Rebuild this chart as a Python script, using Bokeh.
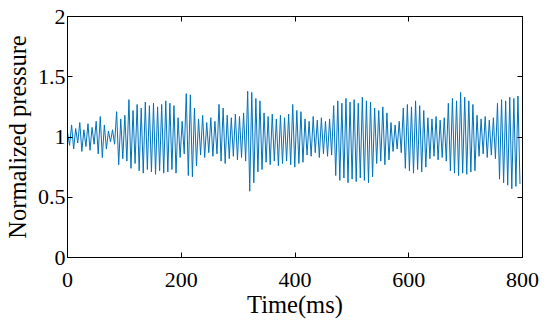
from bokeh.plotting import figure
from bokeh.models import LinearAxis, FixedTicker, NumeralTickFormatter, Range1d, CustomJSTickFormatter
from bokeh.embed import file_html
from bokeh.resources import INLINE

# ---- data ----
half_period_ms = 3.6  # spacing between successive peak / trough samples

# per-cycle maxima of the normalized pressure
peaks = [
    1.04, 1.10, 1.07, 1.12, 1.06, 1.11, 1.08,
    1.13, 1.17, 1.10, 1.05, 1.06, 1.21, 1.15, 1.18,
    1.31, 1.22, 1.27, 1.24, 1.29, 1.26, 1.28, 1.25, 1.27, 1.30, 1.28, 1.26,
    1.16, 1.13,
    1.36, 1.35,
    1.24,
    1.15, 1.18, 1.12, 1.16, 1.13,
    1.27, 1.24,
    1.18, 1.16, 1.19, 1.17, 1.20,
    1.38, 1.37,
    1.32, 1.30,
    1.20, 1.17, 1.19, 1.15, 1.18, 1.16, 1.19, 1.27,
    1.22, 1.21,
    1.15, 1.13, 1.17, 1.14, 1.16, 1.13, 1.15,
    1.26, 1.30, 1.28, 1.32, 1.29, 1.31, 1.28, 1.33, 1.30, 1.29,
    1.24, 1.22, 1.25, 1.20,
    1.12, 1.10, 1.13,
    1.24, 1.27, 1.25, 1.30, 1.26, 1.22,
    1.16, 1.15, 1.17, 1.14, 1.16,
    1.28, 1.32, 1.30, 1.37, 1.33, 1.30, 1.27,
    1.18, 1.15, 1.17, 1.14, 1.16,
    1.28, 1.31, 1.30, 1.33, 1.32, 1.34,
]
# per-cycle minima of the normalized pressure
troughs = [
    0.93, 0.90, 0.95, 0.88, 0.92, 0.89, 0.94,
    0.86, 0.83, 0.90, 0.96, 0.94, 0.77, 0.82, 0.80,
    0.74, 0.78, 0.72, 0.70, 0.73, 0.71, 0.69, 0.72, 0.70, 0.71, 0.73, 0.70,
    0.83, 0.86,
    0.68, 0.67,
    0.76,
    0.85, 0.83, 0.87, 0.84, 0.86,
    0.80, 0.78,
    0.82, 0.84, 0.81, 0.83, 0.80,
    0.55, 0.62,
    0.71, 0.73,
    0.79, 0.77, 0.80, 0.76, 0.78, 0.80, 0.77, 0.75,
    0.78, 0.79,
    0.85, 0.84, 0.87, 0.83, 0.86, 0.84, 0.85,
    0.68, 0.64, 0.66, 0.62, 0.65, 0.63, 0.66, 0.64, 0.62, 0.67,
    0.78, 0.80, 0.77, 0.81,
    0.88, 0.90, 0.87,
    0.74, 0.72, 0.70, 0.73, 0.71, 0.75,
    0.82, 0.84, 0.81, 0.83, 0.80,
    0.72, 0.70, 0.68, 0.70, 0.69, 0.71, 0.72,
    0.84, 0.86, 0.83, 0.85, 0.82,
    0.65, 0.62, 0.60, 0.57, 0.59, 0.61,
]

x_ticks = [0, 200, 400, 600, 800]
y_ticks = [0, 0.5, 1, 1.5, 2]
x_label = "Time(ms)"
y_label = "Normalized pressure"

# ---- build the series ----
t, pr = [], []
for k, (pk, tr) in enumerate(zip(peaks, troughs)):
    t += [2 * k * half_period_ms, (2 * k + 1) * half_period_ms]
    pr += [pk, tr]

FONT = "Liberation Serif"

p = figure(frame_width=455, frame_height=241, x_range=Range1d(0, 800), y_range=Range1d(0, 2),
           output_backend="svg", toolbar_location=None,
           min_border_left=60, min_border_right=20, min_border_top=16, min_border_bottom=60,
           x_axis_label=x_label, y_axis_label=y_label)

bottom = p.below[0]
left = p.left[0]

p.line(t, pr, line_color="#0072BD", line_width=1)

p.xgrid.visible = False
p.ygrid.visible = False
p.outline_line_color = "black"
p.outline_line_width = 1
p.outline_line_alpha = 1
p.background_fill_color = "white"
p.border_fill_color = "white"

top = LinearAxis()
right = LinearAxis()
p.add_layout(top, "above")
p.add_layout(right, "right")

for ax in [bottom, top]:
    ax.ticker = FixedTicker(ticks=x_ticks)
for ax in [left, right]:
    ax.ticker = FixedTicker(ticks=y_ticks)
left.formatter = NumeralTickFormatter(format="0.[0]")

for ax in [bottom, left, top, right]:
    ax.major_tick_in = 5
    ax.major_tick_out = 0
    ax.minor_tick_in = 0
    ax.minor_tick_out = 0
    ax.axis_line_color = "black"
    ax.axis_line_width = 1
    ax.major_tick_line_color = "black"
    ax.major_tick_line_width = 1
    ax.major_label_text_font = FONT
    ax.major_label_text_font_size = "22px"
    ax.major_label_text_color = "black"
    ax.axis_label_text_font = FONT
    ax.axis_label_text_font_size = "24.5px"
    ax.axis_label_text_font_style = "normal"
    ax.axis_label_text_color = "black"

for ax in [top, right]:
    ax.formatter = CustomJSTickFormatter(code="return '';")
    ax.major_label_standoff = 0
    ax.axis_label_standoff = 0

bottom.major_label_standoff = 15
bottom.axis_label_standoff = 1
left.major_label_standoff = 2
left.axis_label_standoff = 4

open("out.html", "w").write(file_html(p, INLINE))
